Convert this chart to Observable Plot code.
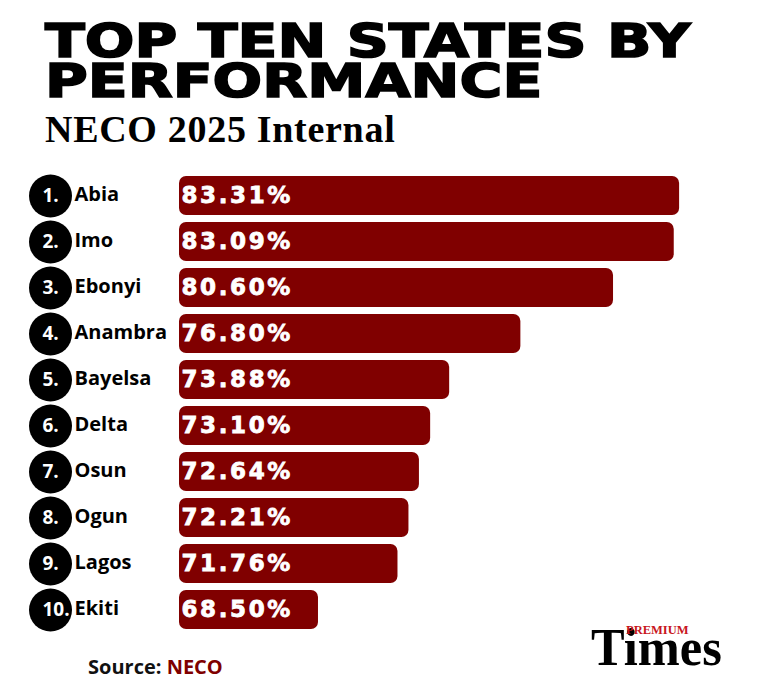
<!DOCTYPE html>
<html>
<head>
<meta charset="utf-8">
<script src="https://cdn.jsdelivr.net/npm/d3@7"></script>
<script src="https://cdn.jsdelivr.net/npm/@observablehq/plot@0.6"></script>
<style>
  html, body { margin: 0; padding: 0; background: #ffffff; }
  #wrap { position: relative; width: 768px; height: 698px; overflow: hidden; background: #fff; }
  .title {
    position: absolute; left: 45px; top: 21px;
    font-family: "DejaVu Sans", sans-serif; font-weight: bold;
    font-size: 46px; line-height: 40px; color: #000;
    transform: scaleX(1.27); transform-origin: left top;
    -webkit-text-stroke: 1.6px #000; white-space: nowrap;
  }
  .subtitle {
    position: absolute; left: 45px; top: 108px;
    font-family: "Liberation Serif", serif; font-weight: bold;
    font-size: 38px; line-height: 42px; color: #000; white-space: nowrap;
    letter-spacing: 0.7px;
  }
  #chart { position: absolute; left: 0; top: 160px; }
  .source {
    position: absolute; left: 88px; top: 655px;
    font-family: "Open Sans", sans-serif; font-weight: 700;
    font-size: 20px; line-height: 24px; color: #111; white-space: nowrap;
  }
  .source span { color: #7f0000; }
  .logo-premium {
    position: absolute; left: 626px; top: 625.8px;
    font-family: "Liberation Serif", serif; font-weight: bold;
    font-size: 12.5px; line-height: 8px; color: #c8161d; white-space: nowrap;
  }
  .logo-times {
    position: absolute; left: 591px; top: 633.5px;
    font-family: "Liberation Serif", serif; font-weight: bold;
    font-size: 52px; line-height: 28px; color: #000; white-space: nowrap;
    transform: scaleX(0.97); transform-origin: left top;
  }
  g[aria-description="values"] text { letter-spacing: 2.6px; stroke: #fff; stroke-width: 0.8px; }
</style>
</head>
<body>
<div id="wrap">
  <div class="title">TOP TEN STATES BY<br>PERFORMANCE</div>
  <div class="subtitle">NECO 2025 Internal</div>
  <div id="chart"></div>
  <div class="source">Source: <span>NECO</span></div>
  <div class="logo-times">Times</div>
  <div class="logo-premium">PREMIUM</div>
</div>
<script>
const states = ["Abia", "Imo", "Ebonyi", "Anambra", "Bayelsa", "Delta", "Osun", "Ogun", "Lagos", "Ekiti"];
const values = [83.31, 83.09, 80.60, 76.80, 73.88, 73.10, 72.64, 72.21, 71.76, 68.50];

const data = states.map((s, i) => ({ rank: i + 1, state: s, value: values[i] }));

const chart = Plot.plot({
  width: 768,
  height: 490,
  marginTop: 12.5,
  marginBottom: 17,
  marginLeft: 179,
  marginRight: 55,
  x: { domain: [62.8, 84.7], clamp: true, axis: null },
  y: { domain: states, axis: null, paddingInner: 0.152, paddingOuter: 0.076 },
  style: { background: "transparent" },
  marks: [
    Plot.barX(data, { x: "value", y: "state", fill: "#800000", rx: 7 }),
    Plot.text(data, {
      y: "state", text: d => d.value.toFixed(2) + "%",
      frameAnchor: "left", textAnchor: "start", dx: 2,
      fill: "white", fontSize: 23, fontWeight: "bold",
      fontFamily: "DejaVu Sans", ariaDescription: "values"
    }),
    Plot.dot(data, { y: "state", frameAnchor: "left", dx: -129, r: 21.5, fill: "black" }),
    Plot.text(data, {
      y: "state", text: d => d.rank + ".",
      frameAnchor: "left", dx: -137,
      fill: "white", fontSize: 19, fontWeight: 700, fontFamily: "Open Sans"
    }),
    Plot.text(data, {
      y: "state", text: "state",
      frameAnchor: "left", textAnchor: "start", dx: -105, dy: -1,
      fill: "black", fontSize: 20, fontWeight: 700, fontFamily: "Open Sans"
    })
  ]
});
document.getElementById("chart").appendChild(chart);
</script>
</body>
</html>
